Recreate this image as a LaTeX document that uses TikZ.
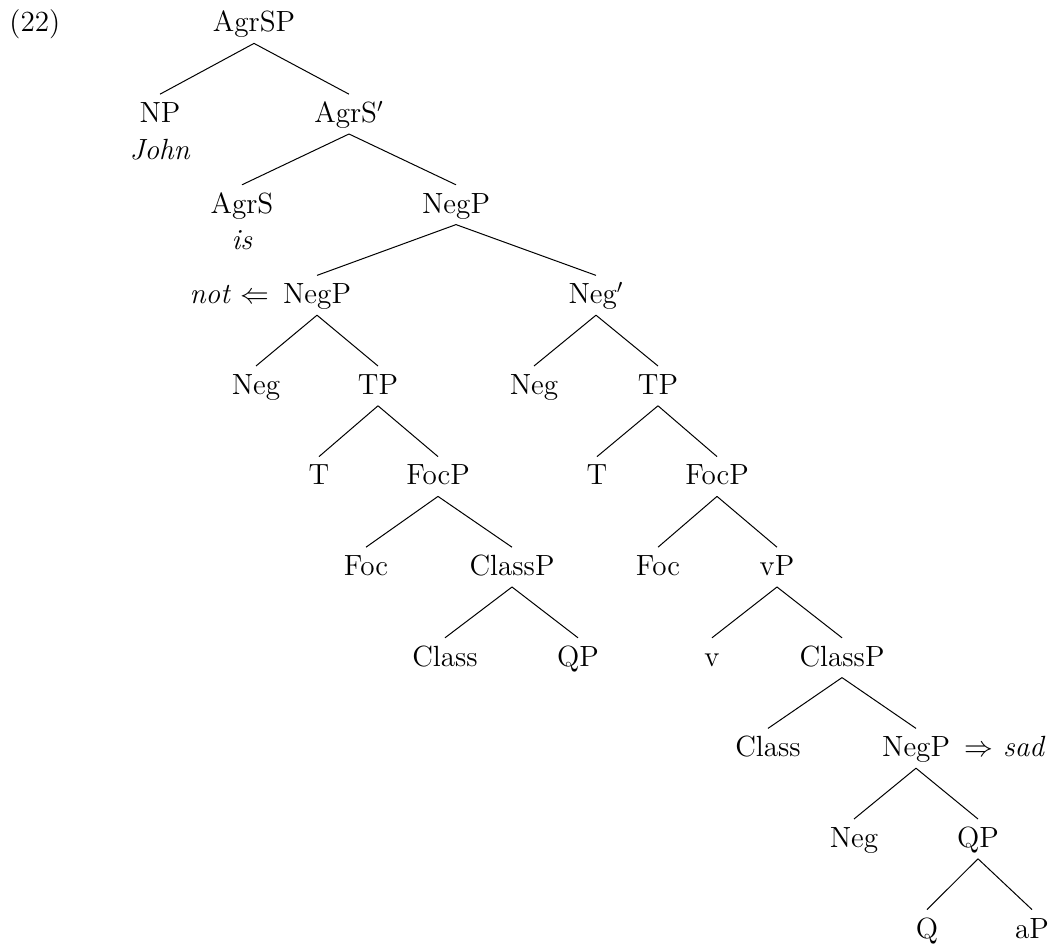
\documentclass[tikz,border=0pt]{standalone}
\usetikzlibrary{positioning}

\tikzset{
    cat/.style={anchor=base,text height=10pt,text depth=1.5pt,inner xsep=0pt,inner ysep=4pt},
    side/.style={text height=10pt,text depth=1.5pt,inner xsep=0pt,inner ysep=4pt},
    branch/.style={line width=0.5pt},
}

\begin{document}
\begin{tikzpicture}[x=0.5pt,y=-0.5pt,font=\fontsize{14.6}{17.5}\selectfont]
            \useasboundingbox (0,0) rectangle (1058,945);

            % baselines % 32  122.6  213.2  303.8  394.4  485  575.6  666.2  756.8  847.4  938

            \node [cat,anchor=base west] (exno) at (9,32) {(22)};

            \node [cat] (agrsp)   at (254,32)    {AgrSP};
            \node [cat] (np)      at (160,122.6) {NP};
            \node [cat] (john)    at (160,160)   {\textit{John}};
            \node [cat] (agrsbar) at (349,122.6) {AgrS$'$};
            \node [cat] (agrs)    at (242,213.2) {AgrS};
            \node [cat] (is)      at (242,250)   {\textit{is}};
            \node [cat] (negpA)   at (456,213.2) {NegP};

            \node [cat] (negpB)   at (317,303.8) {NegP};
            \node [side,left=6.5pt of negpB] (notB) {\textit{not} $\Leftarrow$};
            \node [cat] (negbar)  at (596,303.8) {Neg$'$};

            \node [cat] (negA)    at (256,394.4) {Neg};
            \node [cat] (tpA)     at (378,394.4) {TP};
            \node [cat] (negB)    at (534,394.4) {Neg};
            \node [cat] (tpB)     at (658,394.4) {TP};

            \node [cat] (tA)      at (319,485)   {T};
            \node [cat] (focpA)   at (438,485)   {FocP};
            \node [cat] (tB)      at (597,485)   {T};
            \node [cat] (focpB)   at (717,485)   {FocP};

            \node [cat] (focA)    at (366,575.6) {Foc};
            \node [cat] (classpA) at (512,575.6) {ClassP};
            \node [cat] (focB)    at (658,575.6) {Foc};
            \node [cat] (vp)      at (777,575.6) {vP};

            \node [cat] (classA)  at (445,666.2) {Class};
            \node [cat] (qpA)     at (578,666.2) {QP};
            \node [cat] (v)       at (712,666.2) {v};
            \node [cat] (classpB) at (842,666.2) {ClassP};

            \node [cat] (classB)  at (768,756.8) {Class};
            \node [cat] (negpC)   at (916,756.8) {NegP};
            \node [side,right=7pt of negpC] (sadC) {$\Rightarrow$ \textit{sad}};

            \node [cat] (negC)    at (854,847.4) {Neg};
            \node [cat] (qpB)     at (978,847.4) {QP};
            \node [cat] (q)       at (927,938)   {Q};
            \node [cat] (ap)      at (1032,938)  {aP};

            \foreach \a/\b in {agrsp/np,agrsp/agrsbar,agrsbar/agrs,agrsbar/negpA,
                               negpA/negpB,negpA/negbar,negpB/negA,negpB/tpA,
                               negbar/negB,negbar/tpB,tpA/tA,tpA/focpA,tpB/tB,tpB/focpB,
                               focpA/focA,focpA/classpA,focpB/focB,focpB/vp,
                               classpA/classA,classpA/qpA,vp/v,vp/classpB,
                               classpB/classB,classpB/negpC,negpC/negC,negpC/qpB,
                               qpB/q,qpB/ap}
                {\draw [branch] (\a.south) -- (\b.north);}
\end{tikzpicture}
\end{document}
